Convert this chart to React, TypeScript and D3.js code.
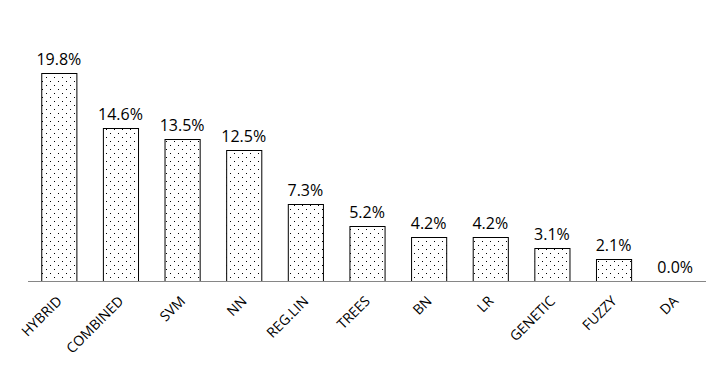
import React from 'react';
import * as d3 from 'd3';

const categories = ['HYBRID', 'COMBINED', 'SVM', 'NN', 'REG.LIN', 'TREES', 'BN', 'LR', 'GENETIC', 'FUZZY', 'DA'];
const shares = [19.8, 14.6, 13.5, 12.5, 7.3, 5.2, 4.2, 4.2, 3.1, 2.1, 0.0];

const W = 718;
const H = 384;
const font = '"Open Sans", "DejaVu Sans", sans-serif';

export default function App() {
  const x = d3.scaleBand<string>().domain(categories).range([28, 706]).paddingInner(0.43).paddingOuter(0.215);
  const y = d3.scaleLinear().domain([0, 20]).range([281, 71]);
  const data = categories.map((c, i) => ({ name: c, value: shares[i] }));

  return (
    <div style={{ position: 'absolute', left: 0, top: 0 }}>
      <svg width={W} height={H} style={{ display: 'block', background: '#fff' }}>
        <defs>
          <pattern id="dots" width={8} height={8} patternUnits="userSpaceOnUse">
            <rect x={2} y={1} width={1} height={1} fill="#000" />
            <rect x={6} y={5} width={1} height={1} fill="#000" />
          </pattern>
        </defs>
        {data.map((d) => (
          <g key={d.name}>
            {d.value > 0 && (
              <rect
                x={x(d.name)! + 0.5}
                y={Math.round(y(d.value)) + 0.5}
                width={x.bandwidth()}
                height={y(0) - Math.round(y(d.value))}
                fill="url(#dots)"
                stroke="#000"
                strokeWidth={1}
              />
            )}
            <text
              x={x(d.name)! + x.bandwidth() / 2}
              y={y(d.value) - 8}
              textAnchor="middle"
              fontFamily={font}
              fontSize={16}
              fill="#000"
            >
              {d.value.toFixed(1) + '%'}
            </text>
            <text
              transform={`translate(${x(d.name)! + x.bandwidth() / 2 + 4},${y(0) + 21}) rotate(-45)`}
              textAnchor="end"
              fontFamily={font}
              fontSize={14}
              fill="#000"
            >
              {d.name}
            </text>
          </g>
        ))}
        <line x1={28} x2={706} y1={281.5} y2={281.5} stroke="#868686" strokeWidth={1} />
      </svg>
    </div>
  );
}
